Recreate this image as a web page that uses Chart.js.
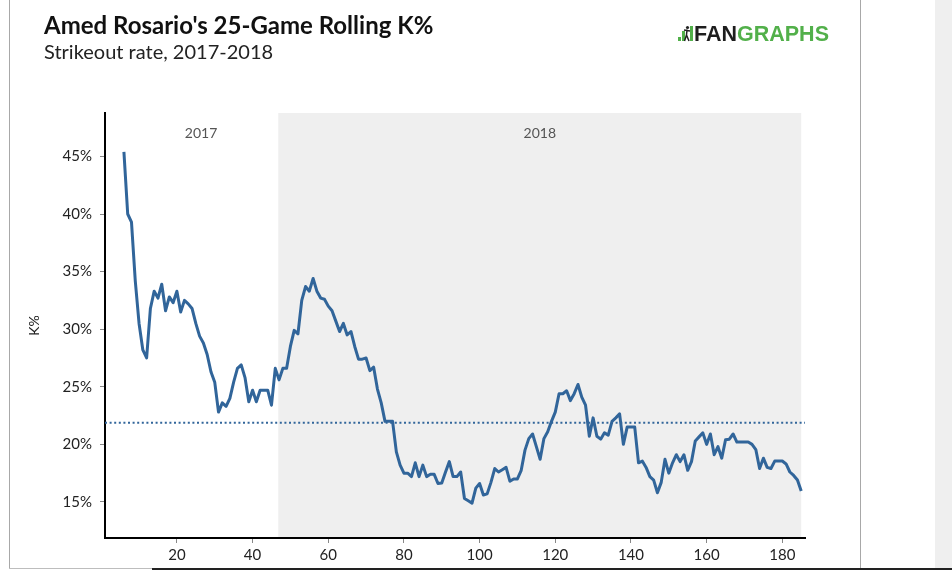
<!DOCTYPE html>
<html>
<head>
<meta charset="utf-8">
<script src="https://cdn.jsdelivr.net/npm/chart.js@4.4.1/dist/chart.umd.min.js"></script>
<style>
  html, body { margin: 0; padding: 0; background: #fff; }
  #wrap { position: relative; width: 952px; height: 570px; }
  canvas { display: block; }
</style>
</head>
<body>
<div id="wrap"><canvas id="c" width="952" height="570"></canvas></div>
<script>
// ---- Data ----
const games = [
  6,7,8,9,10,11,12,13,14,15,
  16,17,18,19,20,21,22,23,24,25,
  26,27,28,29,30,31,32,33,34,35,
  36,37,38,39,40,41,42,43,44,45,
  46,47,48,49,50,51,52,53,54,55,
  56,57,58,59,60,61,62,63,64,65,
  66,67,68,69,70,71,72,73,74,75,
  76,77,78,79,80,81,82,83,84,85,
  86,87,88,89,90,91,92,93,94,95,
  96,97,98,99,100,101,102,103,104,105,
  106,107,108,109,110,111,112,113,114,115,
  116,117,118,119,120,121,122,123,124,125,
  126,127,128,129,130,131,132,133,134,135,
  136,137,138,139,140,141,142,143,144,145,
  146,147,148,149,150,151,152,153,154,155,
  156,157,158,159,160,161,162,163,164,165,
  166,167,168,169,170,171,172,173,174,175,
  176,177,178,179,180,181,182,183,184,185
];
const kPct = [
  45.4, 40.0, 39.3, 34.2, 30.5, 28.2, 27.5, 31.8, 33.3, 32.7,
  33.9, 31.6, 32.8, 32.3, 33.3, 31.5, 32.5, 32.2, 31.8, 30.5,
  29.4, 28.8, 27.8, 26.3, 25.4, 22.8, 23.6, 23.3, 24.0, 25.4,
  26.6, 26.9, 25.8, 23.7, 24.7, 23.7, 24.7, 24.7, 24.7, 23.4,
  26.6, 25.6, 26.6, 26.6, 28.5, 29.9, 29.6, 32.5, 33.7, 33.3,
  34.4, 33.3, 32.7, 32.6, 32.0, 31.6, 30.7, 29.8, 30.5, 29.5,
  29.8, 28.5, 27.4, 27.4, 27.5, 26.4, 26.7, 24.8, 23.6, 22.0,
  22.0, 22.0, 19.35, 18.2, 17.5, 17.5, 17.2, 18.4, 17.2, 18.2,
  17.2, 17.4, 17.4, 16.6, 16.65, 17.6, 18.5, 17.2, 17.2, 17.6,
  15.3, 15.1, 14.9, 16.2, 16.6, 15.6, 15.7, 16.7, 17.9, 17.6,
  17.8, 18.0, 16.8, 17.0, 17.0, 17.75, 19.5, 20.5, 20.9, 19.8,
  18.7, 20.5, 21.1, 22.0, 22.8, 24.4, 24.4, 24.65, 23.8, 24.4,
  25.2, 24.1, 23.4, 20.7, 22.3, 20.7, 20.45, 21.0, 20.8, 22.0,
  22.3, 22.65, 20.0, 21.5, 21.5, 21.5, 18.4, 18.55, 18.0, 17.2,
  16.9, 15.8, 16.7, 18.7, 17.5, 18.4, 19.1, 18.5, 19.1, 17.75,
  18.5, 20.3, 20.65, 21.0, 20.0, 20.9, 19.1, 19.8, 18.8, 20.4,
  20.45, 20.9, 20.2, 20.2, 20.2, 20.2, 20.0, 19.55, 17.9, 18.8,
  18.0, 17.9, 18.55, 18.55, 18.55, 18.3, 17.6, 17.3, 16.9, 15.95
];
const averageK = 21.87;
const seasons = ['2017', '2018'];
const seasonBreak = 46.8;        // game where 2018 begins
const xTicks = [20, 40, 60, 80, 100, 120, 140, 160, 180];
const yTicks = [15, 20, 25, 30, 35, 40, 45];
const xRange = [1, 186];
const yRange = [11.87, 48.77];
const titleText = "Amed Rosario's 25-Game Rolling K%";
const subtitleText = 'Strikeout rate, 2017-2018';
const yAxisTitle = 'K%';

// ---- Build chart ----
const lineColor = '#31659a';
const lineData = games.map((g, i) => ({ x: g, y: kPct[i] }));
const avgData = [{ x: xRange[0], y: averageK }, { x: xRange[1], y: averageK }];

const decor = {
  id: 'decor',
  beforeDraw(chart) {
    const ctx = chart.ctx;
    const ca = chart.chartArea;
    const xs = chart.scales.x;
    ctx.save();
    // page frame
    ctx.fillStyle = '#efefef';
    ctx.fillRect(935, 0, 17, 570);
    ctx.fillStyle = '#a8a8a8';
    ctx.fillRect(9, 0, 1, 569);
    ctx.fillRect(860, 0, 1, 569);
    ctx.fillStyle = '#bdbdbd';
    ctx.fillRect(9, 568, 143, 1);
    ctx.fillStyle = '#222';
    ctx.fillRect(152, 568, 800, 2);
    // 2018 shading
    const x0 = xs.getPixelForValue(seasonBreak);
    const x1 = xs.getPixelForValue(games[games.length - 1]);
    ctx.fillStyle = '#efefef';
    ctx.fillRect(x0, ca.top, x1 - x0, ca.bottom - ca.top);
    ctx.restore();
  },
  afterDraw(chart) {
    const ctx = chart.ctx;
    const xs = chart.scales.x;
    ctx.save();
    // title & subtitle
    ctx.textAlign = 'left';
    ctx.textBaseline = 'alphabetic';
    ctx.fillStyle = '#111';
    ctx.font = 'bold 24px Lato';
    ctx.fillText(titleText, 44, 34);
    ctx.fillStyle = '#222';
    ctx.font = '20px Lato';
    ctx.fillText(subtitleText, 44, 59);
    // season labels
    const xStart = xs.getPixelForValue(games[0]);
    const xBreak = xs.getPixelForValue(seasonBreak);
    const xEnd = xs.getPixelForValue(games[games.length - 1]);
    ctx.fillStyle = '#555';
    ctx.font = '14px Lato';
    ctx.textAlign = 'center';
    ctx.textBaseline = 'middle';
    ctx.fillText(seasons[0], (xStart + xBreak) / 2, 133);
    ctx.fillText(seasons[1], (xBreak + xEnd) / 2, 133);
    // FanGraphs logo
    const green = '#52b04a';
    ctx.fillStyle = green;
    ctx.fillRect(678, 37, 3, 4);
    ctx.fillRect(682, 31, 3, 10);
    ctx.fillRect(690, 26, 3, 15);
    ctx.fillStyle = '#222';
    ctx.beginPath();
    ctx.arc(687.5, 27.5, 1.6, 0, Math.PI * 2);
    ctx.fill();
    ctx.strokeStyle = '#222';
    ctx.lineWidth = 1.5;
    ctx.beginPath();
    ctx.moveTo(687, 29.5); ctx.lineTo(686.5, 35); ctx.lineTo(684.5, 41);
    ctx.moveTo(686.5, 35); ctx.lineTo(689, 41);
    ctx.moveTo(684, 30); ctx.lineTo(690, 31);
    ctx.stroke();
    ctx.textAlign = 'left';
    ctx.textBaseline = 'alphabetic';
    ctx.font = 'bold 21.5px "Liberation Sans", Arial, sans-serif';
    ctx.fillStyle = '#1e1e1e';
    ctx.fillText('FAN', 694, 41);
    const w = ctx.measureText('FAN').width;
    ctx.fillStyle = green;
    ctx.fillText('GRAPHS', 694 + w, 41);
    ctx.restore();
  }
};

Chart.defaults.font.family = 'Lato, "Noto Sans", sans-serif';

new Chart(document.getElementById('c'), {
  type: 'line',
  data: {
    datasets: [
      {
        data: lineData,
        borderColor: lineColor,
        borderWidth: 3,
        pointRadius: 0,
        tension: 0,
        fill: false,
        borderJoinStyle: 'round'
      },
      {
        data: avgData,
        borderColor: lineColor,
        borderWidth: 2,
        borderDash: [2, 2.6],
        pointRadius: 0,
        fill: false
      }
    ]
  },
  options: {
    responsive: false,
    animation: false,
    events: [],
    layout: { padding: { left: 20, right: 147, top: 113, bottom: 0 } },
    plugins: {
      legend: { display: false },
      tooltip: { enabled: false },
      title: { display: false }
    },
    scales: {
      x: {
        type: 'linear',
        min: xRange[0],
        max: xRange[1],
        afterBuildTicks(scale) { scale.ticks = xTicks.map(v => ({ value: v })); },
        afterFit(scale) { scale.height = 32; },
        grid: { drawOnChartArea: false, drawTicks: true, tickLength: 5, color: '#888', tickWidth: 1 },
        border: { display: true, color: '#000', width: 2 },
        ticks: { color: '#222', font: { size: 15 }, padding: 3, maxRotation: 0, autoSkip: false }
      },
      y: {
        type: 'linear',
        min: yRange[0],
        max: yRange[1],
        afterBuildTicks(scale) { scale.ticks = yTicks.map(v => ({ value: v })); },
        afterFit(scale) { scale.width = 85; },
        grid: { drawOnChartArea: false, drawTicks: true, tickLength: 5, color: '#888', tickWidth: 1 },
        border: { display: true, color: '#000', width: 2 },
        ticks: { color: '#222', font: { size: 15 }, padding: 8, callback: v => v + '%' },
        title: { display: true, text: yAxisTitle, color: '#222', font: { size: 14 }, padding: { top: 6, bottom: 0 } }
      }
    }
  },
  plugins: [decor]
});
</script>
</body>
</html>
